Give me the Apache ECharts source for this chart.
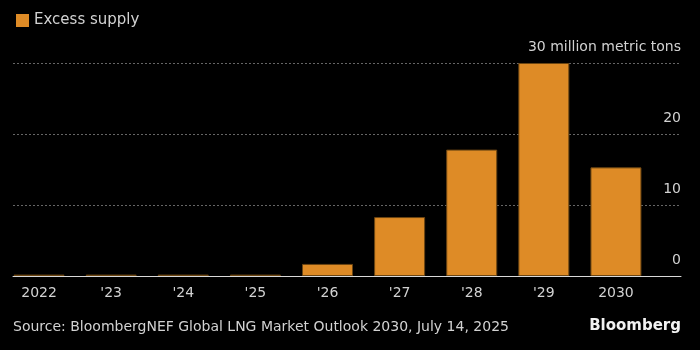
<!DOCTYPE html>
<html>
<head>
<meta charset="utf-8">
<script src="https://cdn.jsdelivr.net/npm/echarts@6/dist/echarts.min.js"></script>
<style>
html,body{margin:0;padding:0;background:#000;}
#chart{width:700px;height:350px;}
</style>
</head>
<body>
<div id="chart"></div>
<script>
var categories = ['2022', "'23", "'24", "'25", "'26", "'27", "'28", "'29", '2030'];
var excessSupply = [0.2, 0.2, 0.2, 0.2, 1.7, 8.3, 17.8, 30.0, 15.3];
var yTicks = [0, 10, 20, 30];
var seriesName = 'Excess supply';
var unitLabel = '30 million metric tons';
var sourceText = 'Source: BloombergNEF Global LNG Market Outlook 2030, July 14, 2025';

var FONT = 'DejaVu Sans';
var TEXT = '#d2d2d2';
var chart = echarts.init(document.getElementById('chart'), null, {renderer: 'canvas'});
chart.setOption({
  backgroundColor: '#000',
  animation: false,
  textStyle: {fontFamily: FONT},
  legend: {
    left: 16, top: 13, padding: 0,
    itemWidth: 13, itemHeight: 13, itemGap: 10,
    icon: 'rect',
    itemStyle: {borderWidth: 0},
    textStyle: {color: TEXT, fontSize: 15, fontFamily: FONT},
    data: [seriesName]
  },
  grid: [
    {left: 3, right: 48, top: 63, bottom: 74},
    {left: 13, right: 19, top: 63, bottom: 74}
  ],
  xAxis: [
    {
      type: 'category', gridIndex: 0, data: categories,
      axisLine: {show: false}, axisTick: {show: false},
      axisLabel: {color: TEXT, fontSize: 14, fontFamily: FONT, margin: 10}
    },
    {
      type: 'category', gridIndex: 1, data: [''],
      axisLine: {show: true, lineStyle: {color: '#d8d8d8', width: 1}},
      axisTick: {show: false}, axisLabel: {show: false}
    }
  ],
  yAxis: [
    {
      type: 'value', gridIndex: 0, min: 0, max: 30, interval: 10,
      axisLine: {show: false}, axisTick: {show: false},
      axisLabel: {show: false}, splitLine: {show: false}
    },
    {
      type: 'value', gridIndex: 1, min: yTicks[0], max: yTicks[yTicks.length - 1], interval: 10,
      position: 'right',
      axisLine: {show: false}, axisTick: {show: false},
      splitLine: {show: true, lineStyle: {color: '#666', type: [2, 2], width: 1}},
      axisLabel: {
        inside: true, margin: 0, color: TEXT, fontSize: 14, fontFamily: FONT,
        verticalAlign: 'bottom', padding: [0, 0, 9, 0],
        formatter: function (v) { return v === 30 ? unitLabel : String(v); }
      }
    }
  ],
  series: [{
    name: seriesName, type: 'bar', xAxisIndex: 0, yAxisIndex: 0,
    data: excessSupply, barWidth: 51, z: 5,
    itemStyle: {color: '#de8b26', borderColor: '#6b4512', borderWidth: 1}
  }],
  graphic: [
    {type: 'text', left: 13, top: 320,
     style: {text: sourceText, fill: TEXT, font: '14px "DejaVu Sans"'}},
    {type: 'text', right: 19, top: 319,
     style: {text: 'Bloomberg', fill: '#f2f2f2', font: 'bold 15px "DejaVu Sans"'}}
  ]
});
</script>
</body>
</html>
